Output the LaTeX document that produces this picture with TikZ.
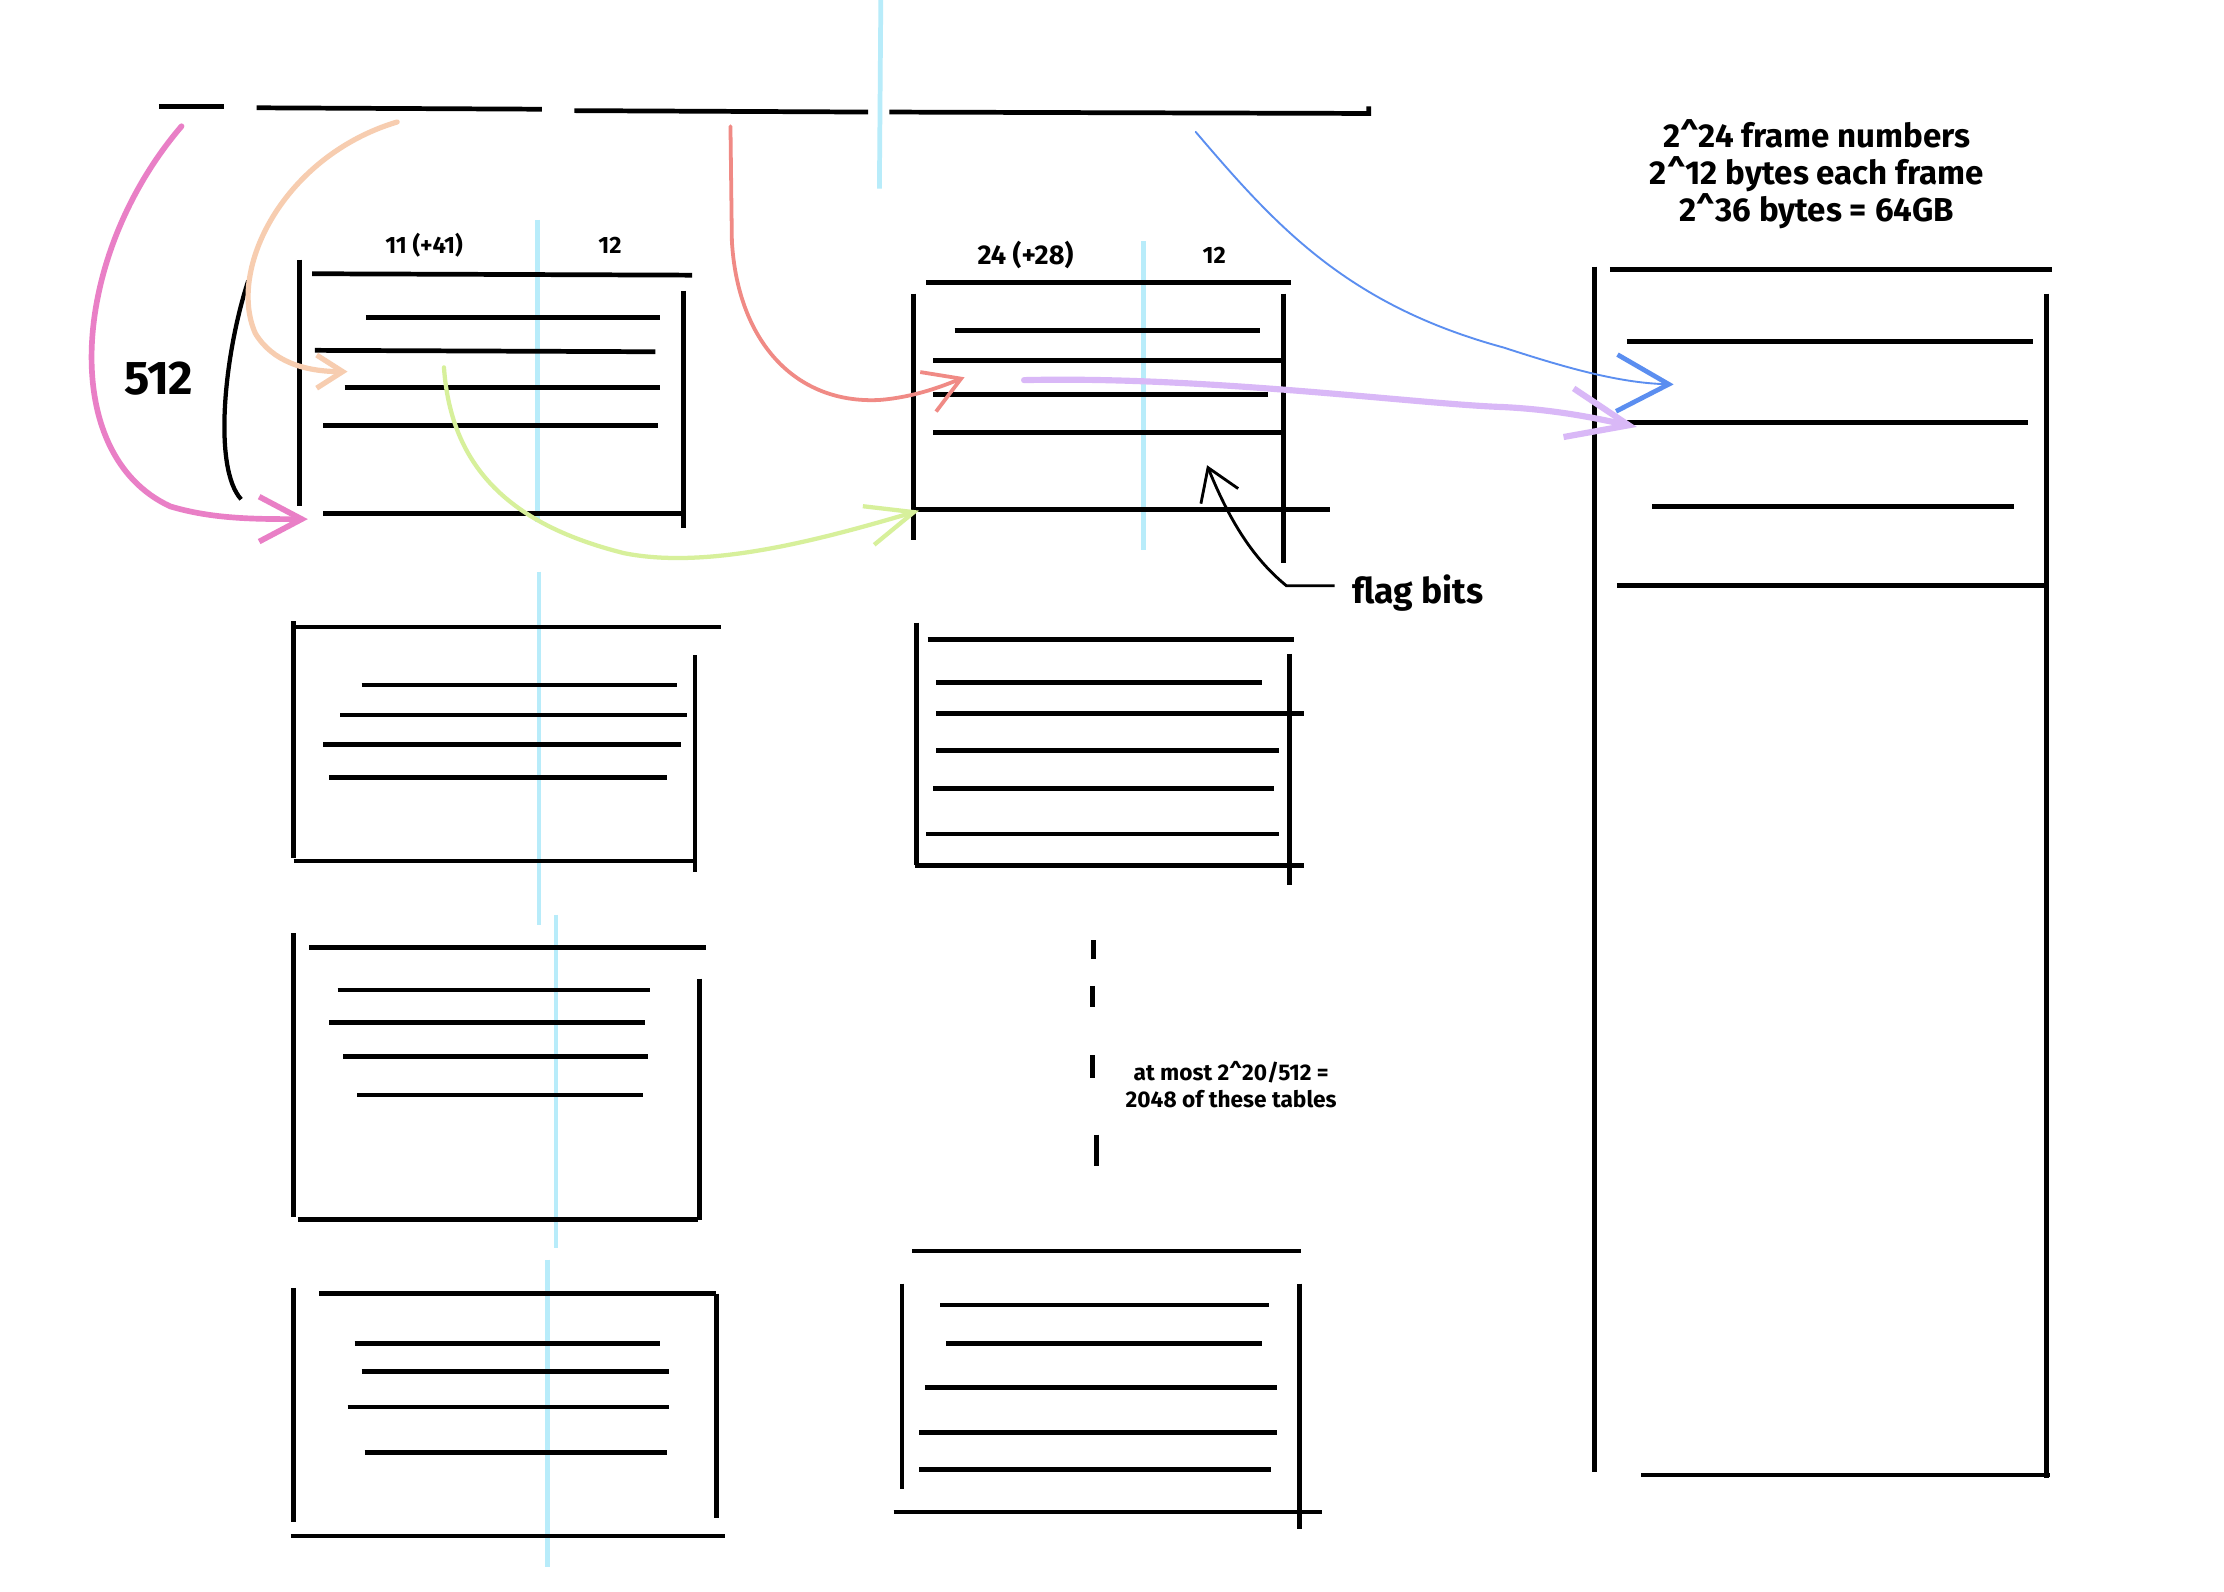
\documentclass[tikz,border=0pt]{standalone}
\usepackage{fontspec}
\setmainfont{Fira Sans}
\usetikzlibrary{arrows.meta}
\definecolor{cyanl}{RGB}{184,236,250}
\definecolor{pinkc}{RGB}{233,127,198}
\definecolor{peachc}{RGB}{247,205,176}
\definecolor{salmonc}{RGB}{240,138,133}
\definecolor{greenc}{RGB}{215,240,155}
\definecolor{bluec}{RGB}{91,142,240}
\definecolor{purplec}{RGB}{217,184,247}
\begin{document}
\begin{tikzpicture}[x=0.6pt,y=-0.6pt,
  ink/.style={line width=2pt},
  guide/.style={cyanl,line width=2pt},
  lbl/.style={font=\bfseries\fontsize{10}{12}\selectfont,inner sep=0pt},
  big/.style={font=\bfseries\fontsize{14}{15.6}\selectfont,inner sep=0pt,align=center},
  note/.style={font=\bfseries\fontsize{9.6}{11.4}\selectfont,inner sep=0pt,align=center},
  linkarrow/.style={line cap=round}]
\useasboundingbox (0,0) rectangle (1568,1122);
\fill[white] (0,0) rectangle (1568,1122);

% ---------- light blue guides ----------
\draw[guide] (621,0) -- (620,133);
\draw[guide] (379,155) -- (379,368);
\draw[guide] (380,403) -- (380,652);
\draw[guide] (392,645) -- (392,880);
\draw[guide] (386,888) -- (386,1105);
\draw[guide] (806,170) -- (806,388);

% ---------- top address segments ----------
\draw[ink] (112,75) -- (158,75);
\draw[ink] (181,76) -- (382,77);
\draw[ink] (405,78) -- (612,79);
\draw[ink] (627,79) -- (965,80) -- (965,75);
\coordinate (s1) at (128,89);
\coordinate (s2) at (280,86);
\coordinate (s3) at (515,89);
\coordinate (s4) at (843,93);

% ---------- table A1 ----------
\draw[ink] (211,183) -- (211,357);
\draw[ink] (220,193) -- (488,194);
\draw[ink] (482,205) -- (482,372);
\draw[ink] (258,224) -- (465,224);
\draw[ink] (222,247) -- (462,248);
\draw[ink] (243,273) -- (465,273);
\draw[ink] (228,300) -- (464,300);
\draw[ink] (228,362) -- (482,362);
\node[lbl] (la) at (299,173) {11 (+41)};
\node[lbl] (lb) at (430,173) {12};

% ---------- table A2 ----------
\draw[ink] (207,442) -- (508,442);
\draw[ink] (207,438) -- (207,605);
\draw[ink] (490,462) -- (490,615);
\draw[ink] (255,483) -- (477,483);
\draw[ink] (240,504) -- (484,504);
\draw[ink] (228,525) -- (480,525);
\draw[ink] (232,548) -- (470,548);
\draw[ink] (207,607) -- (490,607);

% ---------- table A3 ----------
\draw[ink] (218,668) -- (498,668);
\draw[ink] (207,658) -- (207,858);
\draw[ink] (493,690) -- (493,860);
\draw[ink] (238,698) -- (458,698);
\draw[ink] (232,721) -- (455,721);
\draw[ink] (242,745) -- (457,745);
\draw[ink] (252,772) -- (453,772);
\draw[ink] (210,860) -- (492,860);

% ---------- table A4 ----------
\draw[ink] (225,912) -- (505,912);
\draw[ink] (207,908) -- (207,1073);
\draw[ink] (505,912) -- (505,1070);
\draw[ink] (250,947) -- (465,947);
\draw[ink] (255,967) -- (472,967);
\draw[ink] (245,992) -- (472,992);
\draw[ink] (257,1024) -- (470,1024);
\draw[ink] (205,1083) -- (511,1083);

% ---------- table B1 ----------
\draw[ink] (653,199) -- (910,199);
\draw[ink] (644,207) -- (644,381);
\draw[ink] (905,207) -- (905,397);
\draw[ink] (673,233) -- (888,233);
\draw[ink] (658,254) -- (903,254);
\draw[ink] (658,278) -- (894,278);
\draw[ink] (658,305) -- (905,305);
\draw[ink] (643,359) -- (938,359);
\node[lbl,font=\bfseries\fontsize{11.5}{12}\selectfont] (lc) at (723,180) {24 (+28)};
\node[lbl] (ld) at (856,180) {12};

% ---------- table B2 ----------
\draw[ink] (654,451) -- (912,451);
\draw[ink] (646,439) -- (646,610);
\draw[ink] (909,461) -- (909,624);
\draw[ink] (660,481) -- (890,481);
\draw[ink] (660,503) -- (919,503);
\draw[ink] (660,529) -- (902,529);
\draw[ink] (658,556) -- (898,556);
\draw[ink] (653,588) -- (902,588);
\draw[ink] (645,610) -- (919,610);

% ---------- table B3 ----------
\draw[ink] (643,882) -- (917,882);
\draw[ink] (636,905) -- (636,1050);
\draw[ink] (916,905) -- (916,1078);
\draw[ink] (663,920) -- (895,920);
\draw[ink] (667,947) -- (890,947);
\draw[ink] (652,978) -- (900,978);
\draw[ink] (648,1010) -- (900,1010);
\draw[ink] (648,1036) -- (896,1036);
\draw[ink] (630,1066) -- (932,1066);

% ---------- dashed continuation ----------
\draw[ink] (771,663) -- (771,676);
\draw[ink] (770,695) -- (770,710);
\draw[ink] (770,744) -- (770,760);
\draw[ink] (773,800) -- (773,822);
\node[note] (most) at (868,765) {at most 2\textasciicircum 20/512 =\\2048 of these tables};

% ---------- table C (physical memory) ----------
\node[big] (hdr) at (1281,123) {2\textasciicircum 24 frame numbers\\2\textasciicircum 12 bytes each frame\\2\textasciicircum 36 bytes = 64GB};
\draw[ink] (1135,190) -- (1447,190);
\draw[ink] (1124,188) -- (1124,1038);
\draw[ink] (1443,207) -- (1443,1042);
\draw[ink] (1147,241) -- (1433,241);
\draw[ink] (1140,298) -- (1430,298);
\draw[ink] (1165,357) -- (1420,357);
\draw[ink] (1140,413) -- (1443,413);
\draw[ink] (1157,1040) -- (1445,1040);

% ---------- 512 brace ----------
\node[font=\bfseries\fontsize{20}{22}\selectfont,inner sep=0pt] (n512) at (112,267) {512};
\draw[line width=1.8pt] (175,198) .. controls (158,250) and (150,330) .. (170,352);

% ---------- flag bits ----------
\node[font=\bfseries\fontsize{15}{16}\selectfont,inner sep=0pt,anchor=west] (flag) at (953,418) {flag bits};
\coordinate (flagtip) at (851,328);
\draw[line width=1.2pt,-{Straight Barb[length=13pt,width=17pt]}] (flag.west) ++(-12,-5) -- (907,413) .. controls (885,395) and (868,370) .. (flagtip);

% ---------- coloured arrows ----------
\coordinate (e1) at (217,366);
\coordinate (e2) at (245,262);
\coordinate (e3) at (680,266);
\coordinate (g1) at (313,259);
\coordinate (e4) at (648,360);
\coordinate (p1) at (722,268);
\coordinate (e5) at (1154,301);
\coordinate (e6) at (1180,271);

\draw[pinkc,line width=2.4pt,linkarrow,-{Straight Barb[length=18pt,width=19pt]}]
  (s1) .. controls (50,180) and (40,320) .. (120,357) .. controls (150,366) and (180,366) .. (e1);
\draw[peachc,line width=2.2pt,linkarrow,-{Straight Barb[length=11pt,width=14pt]}]
  (s2) .. controls (200,110) and (160,190) .. (180,235) .. controls (192,255) and (215,262) .. (e2);
\draw[salmonc,line width=1.6pt,linkarrow,-{Straight Barb[length=15pt,width=18pt]}]
  (s3) -- (516,170) .. controls (520,240) and (560,285) .. (620,282) .. controls (645,280) and (665,272) .. (e3);
\draw[greenc,line width=1.8pt,linkarrow,-{Straight Barb[length=20pt,width=17pt]}]
  (g1) .. controls (318,330) and (360,370) .. (440,390) .. controls (500,402) and (580,380) .. (e4);
\draw[bluec,line width=0.8pt,linkarrow,-{Straight Barb[length=22pt,width=24pt,line width=2pt]}]
  (s4) .. controls (900,160) and (950,215) .. (1060,245) .. controls (1100,258) and (1140,270) .. (e6);
\draw[purplec,line width=2.6pt,linkarrow,-{Straight Barb[length=26pt,width=21pt]}]
  (p1) .. controls (850,265) and (1000,285) .. (1060,287) .. controls (1100,289) and (1130,296) .. (e5);
\end{tikzpicture}
\end{document}
